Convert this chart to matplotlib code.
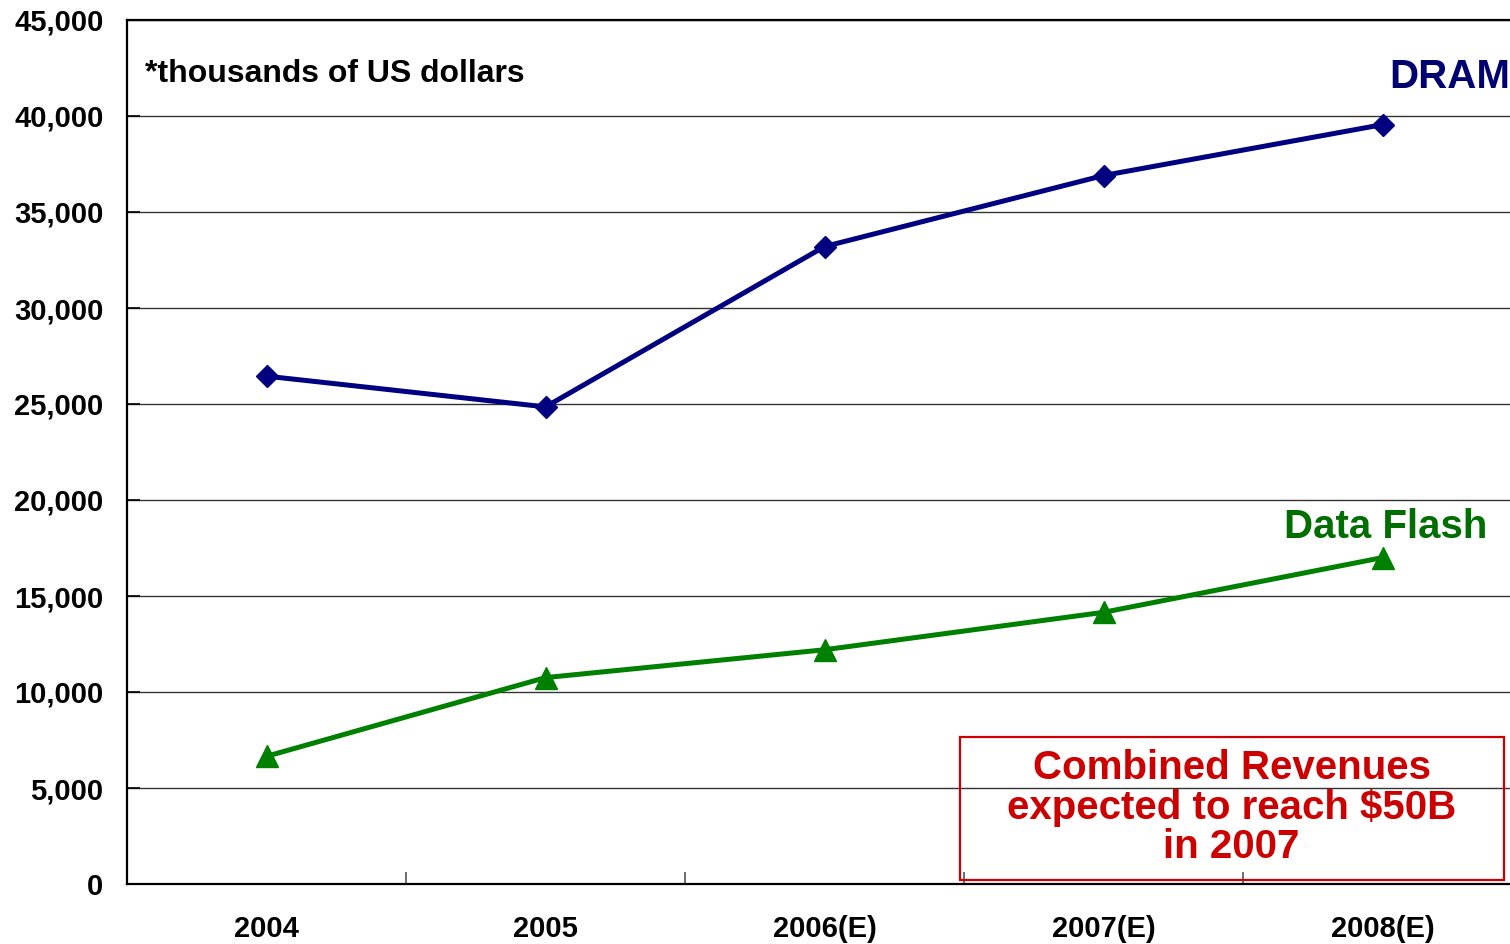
import matplotlib
matplotlib.use("Agg")
import matplotlib.pyplot as plt
from matplotlib.patches import Rectangle
from matplotlib.ticker import FuncFormatter, FixedLocator

plt.rcParams['font.family'] = ['Liberation Sans', 'DejaVu Sans']
plt.rcParams['font.weight'] = 'bold'

years = ["2004", "2005", "2006(E)", "2007(E)", "2008(E)"]
dram = [26450, 24850, 33200, 36900, 39550]
data_flash = [6650, 10750, 12200, 14150, 17000]
y_ticks = list(range(0, 45001, 5000))

navy = "#000080"
green = "#008000"
red = "#CC0000"

fig = plt.figure(figsize=(15.1, 9.44), dpi=100)
ax = fig.add_axes([127 / 1510, 1 - 884 / 944, 1395 / 1510, 864 / 944])

x = list(range(len(years)))
ax.plot(x, dram, color=navy, lw=3.6, marker="D", ms=11.5, zorder=4, clip_on=False)
ax.plot(x, data_flash, color=green, lw=3.6, marker="^", ms=16, zorder=4, clip_on=False)

ax.set_xlim(-0.5, len(years) - 0.5)
ax.set_ylim(0, 45000)

ax.set_yticks(y_ticks)
ax.yaxis.set_major_formatter(FuncFormatter(lambda v, p: f"{int(v):,}"))
ax.grid(axis="y", color="#333333", lw=1.0)
ax.set_axisbelow(True)

ax.set_xticks(x)
ax.set_xticklabels(years)
ax.xaxis.set_minor_locator(FixedLocator([i + 0.5 for i in range(len(years) - 1)]))
ax.tick_params(axis="x", which="major", length=0, pad=22, labelsize=21)
ax.tick_params(axis="x", which="minor", direction="in", length=9, width=1.2, color="#555555")
ax.tick_params(axis="y", which="major", direction="in", length=9, width=1.2, pad=17, labelsize=21)

for side in ("left", "bottom", "top", "right"):
    ax.spines[side].set_linewidth(1.6)
    ax.spines[side].set_color("black")

ax.text(0.013, 0.937, "*thousands of US dollars", transform=ax.transAxes,
        fontsize=23, fontweight="bold", ha="left", va="center")
ax.text(4.24, 42050, "DRAM", color="#000070", fontsize=29, fontweight="bold",
        ha="center", va="center")
ax.text(4.01, 18600, "Data Flash", color="#006E00", fontsize=29, fontweight="bold",
        ha="center", va="center")

ax.add_patch(Rectangle((2.487, 210), 1.947, 7450, fill=False, edgecolor=red,
                       lw=1.6, zorder=5))
ax.text(3.459, 3960, "Combined Revenues\nexpected to reach $50B\nin 2007",
        color=red, fontsize=29, fontweight="bold", ha="center", va="center",
        linespacing=1.05, zorder=6)

fig.savefig("out.png", dpi=100)
